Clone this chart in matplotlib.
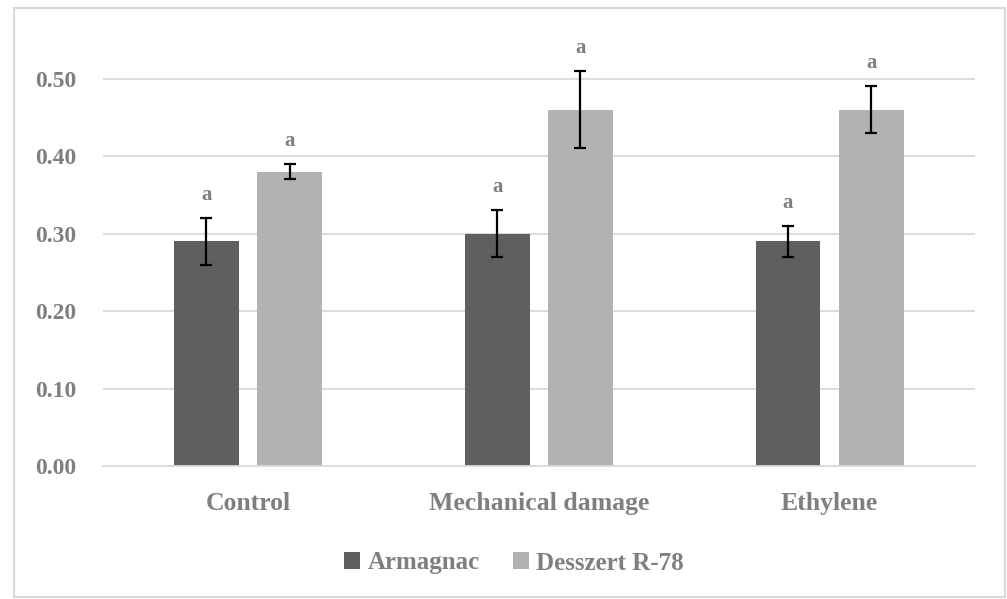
import matplotlib
matplotlib.use("Agg")
import matplotlib.pyplot as plt
from matplotlib.patches import Rectangle
import numpy as np

categories = ["Control", "Mechanical damage", "Ethylene"]
series_names = ["Armagnac", "Desszert R-78"]
armagnac = [0.29, 0.30, 0.29]
armagnac_err = [0.03, 0.03, 0.02]
desszert = [0.38, 0.46, 0.46]
desszert_err = [0.01, 0.05, 0.03]
letters_armagnac = ["a", "a", "a"]
letters_desszert = ["a", "a", "a"]
yticks = [0.0, 0.1, 0.2, 0.3, 0.4, 0.5]

plt.rcParams["font.family"] = ["Liberation Serif", "DejaVu Serif"]
text_col = "#7f7f7f"
grid_col = "#d9d9d9"
dark = "#5f5f5f"
light = "#b2b2b2"

fig = plt.figure(figsize=(10.07, 5.99), dpi=100)
fig.patches.append(Rectangle((14 / 1007, 2 / 599), 991 / 1007, 589 / 599,
                             transform=fig.transFigure, fill=False,
                             edgecolor=grid_col, linewidth=1.5))

ax = fig.add_axes([102.5 / 1007, (599 - 466) / 599, 872.5 / 1007, 426 / 599])
x = np.arange(len(categories))
w = 0.223
off = 0.143

ax.bar(x - off, armagnac, w, color=dark, label=series_names[0], zorder=2)
ax.bar(x + off, desszert, w, color=light, label=series_names[1], zorder=2)
ax.errorbar(x - off, armagnac, yerr=armagnac_err, fmt="none", ecolor="black",
            elinewidth=1.6, capsize=4.5, capthick=1.6, zorder=3, clip_on=False)
ax.errorbar(x + off, desszert, yerr=desszert_err, fmt="none", ecolor="black",
            elinewidth=1.6, capsize=4.5, capthick=1.6, zorder=3, clip_on=False)

# significance letters above each error bar
for xs, vals, errs, letters in ((x - off, armagnac, armagnac_err, letters_armagnac),
                                (x + off, desszert, desszert_err, letters_desszert)):
    for xi, v, e, t in zip(xs, vals, errs, letters):
        ax.text(xi, v + e + 0.03, t, ha="center", va="center", fontsize=15,
                fontweight="bold", color=text_col, clip_on=False)

ax.set_xlim(-0.5, len(categories) - 0.5)
ax.set_ylim(0, 0.55)
ax.set_yticks(yticks)
ax.set_yticklabels([f"{t:.2f}" for t in yticks])
ax.set_xticks(x)
ax.set_xticklabels(categories)
ax.yaxis.grid(True, color=grid_col, linewidth=1.3, zorder=0)
ax.set_axisbelow(True)
for s in ["top", "right", "left"]:
    ax.spines[s].set_visible(False)
ax.spines["bottom"].set_color(grid_col)
ax.spines["bottom"].set_linewidth(1.3)
ax.tick_params(axis="both", length=0, labelcolor=text_col)
ax.tick_params(axis="y", labelsize=17, pad=19)
ax.tick_params(axis="x", labelsize=18.5, pad=19)
for lab in ax.get_xticklabels() + ax.get_yticklabels():
    lab.set_fontweight("bold")

leg = fig.legend(loc="center", bbox_to_anchor=(514 / 1007, 1 - 563 / 599), ncol=2,
                 frameon=False, handlelength=0.65, handleheight=0.65,
                 handletextpad=0.3, columnspacing=1.3,
                 prop={"weight": "bold", "size": 18})
for t in leg.get_texts():
    t.set_color(text_col)

fig.savefig("out.png", dpi=100, facecolor="white")
